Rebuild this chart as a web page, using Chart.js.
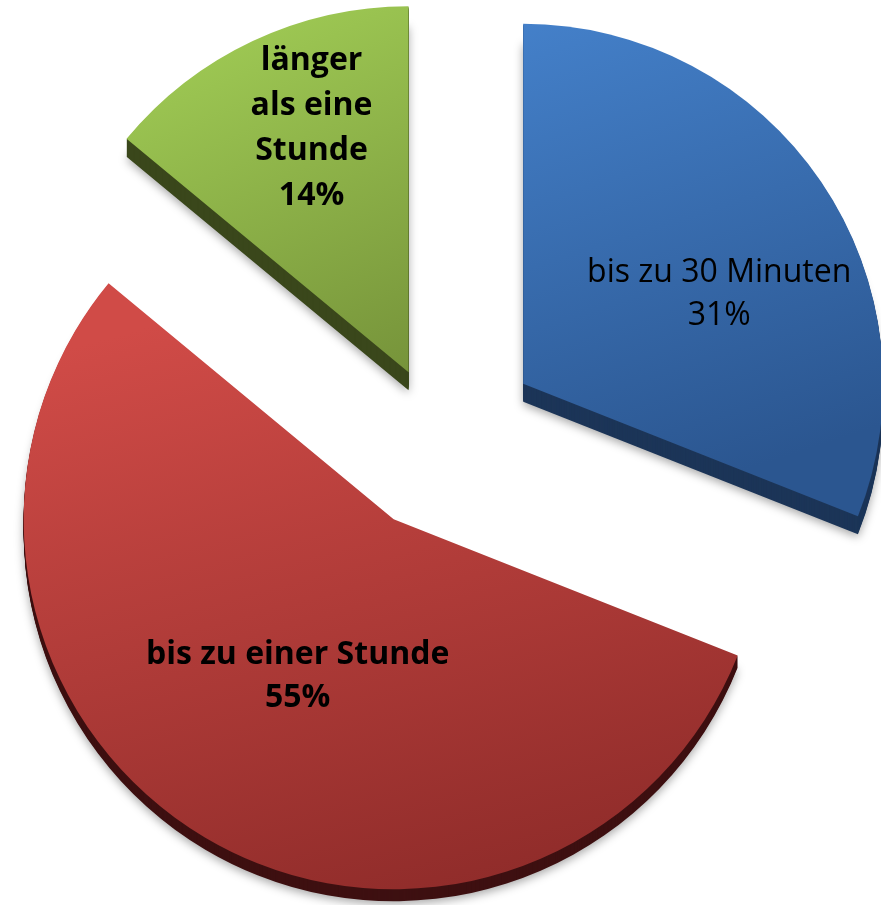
<!DOCTYPE html>
<html>
<head>
<meta charset="utf-8">
<script src="https://cdn.jsdelivr.net/npm/chart.js@4.4.1/dist/chart.umd.min.js"></script>
<style>
  html, body { margin: 0; padding: 0; background: #ffffff; }
  #wrap { width: 881px; height: 905px; position: relative; }
</style>
</head>
<body>
<div id="wrap"><canvas id="c" width="881" height="905"></canvas></div>
<script>
// ---- data ----
const categories = ['bis zu 30 Minuten', 'bis zu einer Stunde', 'länger als eine Stunde'];
const shares = [31, 55, 14];
const labelText = [['bis zu 30 Minuten'], ['bis zu einer Stunde'], ['länger', 'als eine', 'Stunde']];

// ---- styles ----
const topLight = ['#4582cc', '#d04b47', '#9cc652'];
const topDark = ['#2b5690', '#902c2a', '#738f38'];
const sideColor = ['#1c3558', '#3e1011', '#3a471b'];
const explode = [100, 92, 75];
const radii = [360, 370, 366];
const depth = [18, 12, 18];
const labelAnchor = [[196, -102], [-96, 145], [-97, -302]]; // first baseline, relative to slice apex
const labelBold = [false, true, true];
const lineHeight = [43, 43, 45];

const geomPlugin = {
  id: 'geom',
  afterDatasetUpdate(chart, args) {
    const meta = chart.getDatasetMeta(args.index);
    meta.data.forEach((arc, i) => {
      const mid = (arc.startAngle + arc.endAngle) / 2;
      arc.x += Math.cos(mid) * explode[i];
      arc.y += Math.sin(mid) * explode[i];
      arc.outerRadius = radii[i];
      let minY = arc.y, maxY = arc.y;
      for (let k = 0; k <= 60; k++) {
        const a = arc.startAngle + (arc.endAngle - arc.startAngle) * k / 60;
        const y = arc.y + Math.sin(a) * arc.outerRadius;
        minY = Math.min(minY, y); maxY = Math.max(maxY, y);
      }
      const g = chart.ctx.createLinearGradient(arc.x - 80, minY, arc.x + 80, maxY);
      g.addColorStop(0, topLight[i]);
      g.addColorStop(1, topDark[i]);
      arc.options = Object.assign({}, arc.options, { backgroundColor: g, borderWidth: 0 });
    });
  }
};

const depthPlugin = {
  id: 'depth3d',
  beforeDatasetsDraw(chart) {
    const ctx = chart.ctx;
    const meta = chart.getDatasetMeta(0);
    meta.data.forEach((arc, i) => {
      const fake = Object.create(arc);
      fake.options = Object.assign({}, arc.options, { backgroundColor: sideColor[i], borderWidth: 0 });
      ctx.save();
      ctx.shadowColor = 'rgba(0,0,0,0.35)';
      ctx.shadowBlur = 10;
      ctx.shadowOffsetY = 3;
      ctx.translate(0, depth[i]);
      fake.draw(ctx);
      ctx.restore();
      for (let k = depth[i] - 1; k > 0; k--) {
        ctx.save();
        ctx.translate(0, k);
        fake.draw(ctx);
        ctx.restore();
      }
    });
  }
};

const labelPlugin = {
  id: 'sliceLabels',
  afterDatasetsDraw(chart) {
    const ctx = chart.ctx;
    const meta = chart.getDatasetMeta(0);
    meta.data.forEach((arc, i) => {
      const lines = labelText[i].concat([shares[i] + '%']);
      const x = arc.x + labelAnchor[i][0];
      const y0 = arc.y + labelAnchor[i][1];
      ctx.save();
      ctx.font = (labelBold[i] ? 'bold ' : '') + '32px "Open Sans"';
      ctx.fillStyle = '#000000';
      ctx.textAlign = 'center';
      ctx.textBaseline = 'alphabetic';
      lines.forEach((t, k) => ctx.fillText(t, x, y0 + k * lineHeight[i]));
      ctx.restore();
    });
  }
};

new Chart(document.getElementById('c'), {
  type: 'pie',
  data: {
    labels: categories,
    datasets: [{
      data: shares,
      backgroundColor: topLight,
      borderWidth: 0,
      radius: 368
    }]
  },
  options: {
    responsive: false,
    animation: false,
    events: [],
    layout: { padding: { top: 0, bottom: 25, left: 0, right: 0 } },
    plugins: { legend: { display: false }, tooltip: { enabled: false } }
  },
  plugins: [geomPlugin, depthPlugin, labelPlugin]
});
</script>
</body>
</html>
